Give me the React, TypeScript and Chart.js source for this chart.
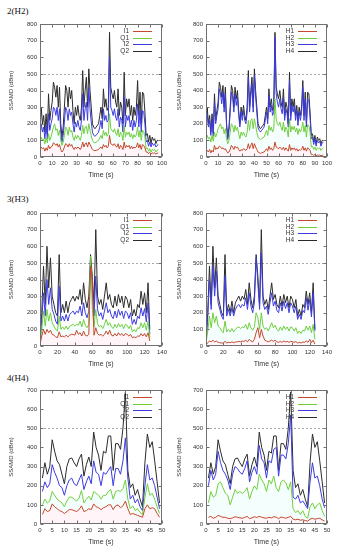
import React, { useEffect, useRef } from "react";
import { Chart, registerables } from "chart.js";
Chart.register(...registerables);

// ---------------- DATA ----------------
const THRESHOLD = 500;

// Row 1 : 2(H2)
const T1 = [0,1,2,3,4,5,6,7,8,9,10,11,12,13,14,15,16,17,18,19,20,21,22,23,24,25,26,27,28,29,30,31,32,33,34,35,36,37,38,39,40,41,42,43,44,45,46,47,48,49,50,51,52,53,54,55,56,57,58,59,60,61,62,63,64,65,66,67,68,69,70,71,72,73,74,75,76,77,78,79,80,81,82,83,84,85,86,87,88,89,90,91,92,93,94,95,96,97];
const R1_I1 = [40,60,50,55,35,55,40,70,50,60, 65,85,80,70,80,60,75,45,30,40, 60,80,75,60,80,65,75,55,45,60, 50,60,55,45,60,90,60,80,85,60, 90,75,60,45,40,38,40,42,45,55, 60,50,75,60,70,55,65,130,80,75, 70,80,65,60,80,50,70,60,45,90, 55,70,60,70,50,65,50,60,55,60, 85,55,75,45,75,70,55,30,30,20, 28,18,25,22,25,18,22,25];
const R1_Q1 = [90,120,100,110,80,115,85,140,100,120, 150,180,200,160,170,130,160,100,70,90, 130,180,170,130,180,150,160,120,100,130, 110,130,115,100,130,190,140,180,185,140, 200,160,130,100,90,85,90,95,100,115, 130,110,160,130,150,125,140,260,170,160, 150,170,145,130,170,120,150,135,100,190, 120,150,135,150,120,140,110,135,120,135, 180,120,160,100,160,155,120,50,55,35, 50,30,45,40,45,30,40,45];
const R1_I2 = [120,200,150,180,110,190,110,260,160,200, 230,300,290,250,300,220,290,150,90,130, 210,300,280,220,290,250,270,200,150,210, 180,220,180,160,220,380,220,290,330,220, 420,290,210,150,130,125,130,140,150,180, 220,170,290,220,250,210,220,600,300,280, 250,290,240,220,290,180,240,220,150,360, 180,250,220,250,180,220,160,220,180,220, 320,180,280,150,280,270,200,90,100,65, 90,60,85,70,80,60,70,75];
const R1_Q2 = [170,300,200,250,150,260,140,380,220,280, 330,450,420,360,430,300,420,200,120,180, 300,430,400,300,420,350,400,280,200,300, 250,310,250,220,300,520,300,400,480,300, 530,400,300,200,180,170,180,190,200,250, 300,230,410,300,350,280,300,750,420,380, 350,400,330,300,410,250,330,300,200,510, 250,350,300,350,250,310,220,300,250,300, 460,250,390,200,390,380,270,130,140,90, 130,80,120,100,110,80,100,100];
const R1_H1 = [25,40,30,45,25,40,30,70,45,55, 50,65,60,50,55,45,50,35,25,30, 45,70,60,45,65,55,60,45,35,45, 40,50,45,40,50,80,50,70,85,50, 80,60,45,30,25,22,25,28,30,40, 50,35,65,45,55,40,50,90,60,55, 50,60,50,45,60,40,55,45,35,75, 40,55,45,55,40,50,35,45,40,45, 65,40,55,35,55,50,40,15,15,10, 15,8,12,10,12,8,10,12];
const R1_H2 = [100,130,110,120,90,130,95,150,120,140, 170,185,200,170,180,140,170,110,80,100, 150,200,190,150,190,160,180,140,110,150, 130,150,130,120,150,220,160,220,230,170, 230,190,150,120,110,105,110,115,120,140, 160,130,190,160,180,150,170,350,230,200, 190,210,180,160,210,150,180,165,120,230, 150,185,165,185,150,175,135,170,150,170, 210,150,190,120,195,190,150,60,65,45, 60,40,55,50,55,40,50,55];
const R1_H3 = [150,260,180,220,130,230,125,330,200,250, 290,410,380,320,390,270,380,180,105,160, 270,390,360,270,380,310,360,250,180,270, 220,280,220,200,270,480,270,360,440,270, 490,360,270,175,160,150,160,170,180,220, 270,200,370,270,310,250,270,720,380,330, 300,350,290,260,360,220,290,260,180,460, 220,310,270,310,220,280,190,270,220,270, 420,220,350,180,350,340,240,110,120,75, 110,65,100,85,95,65,85,90];
const R1_H4 = R1_Q2;

// Row 2 : 3(H3)
const T2 = [0,2,4,6,8,10,12,14,16,18,20,22,24,26,28,30,32,34,36,38,40,42,44,46,48,50,52,54,56,58,60,62,64,66,68,70,72,74,76,78,80,82,84,86,88,90,92,94,96,98,100,102,104,106,108,110,112,114,116,118,120,122,124,126];
const R2_I1 = [10,60,100,70,100,80,95,70,65,55, 50,85,55,60,55,65,55,65,70,70, 65,95,70,80,60,90,65,60,70,480, 400,65,110,75,65,70,60,70,90,70, 95,65,60,75,60,80,65,75,60,75, 70,60,70,50,55,50,60,58,75,60, 75,55,80,30];
const R2_Q1 = [15,100,210,120,220,150,200,140,120,100, 90,180,100,115,100,120,100,120,125,130, 120,130,125,150,115,160,125,110,130,540, 220,115,220,135,115,125,105,130,160,125, 140,115,105,130,110,135,115,130,105,130, 125,105,125,85,100,85,110,105,140,110, 140,95,150,50];
const R2_I2 = [20,150,320,180,400,250,350,220,190,150, 130,360,150,180,150,190,150,190,200,210, 190,210,200,240,180,260,200,170,210,460, 350,180,420,220,180,200,160,210,260,200, 220,180,165,210,170,220,185,210,165,210, 200,165,200,130,160,130,180,165,230,180, 225,145,260,70];
const R2_Q2 = [20,200,480,250,600,350,530,300,250,200, 180,550,200,250,200,270,200,260,280,300, 270,300,280,340,250,380,280,230,300,550, 420,250,700,300,250,280,220,300,380,280, 310,250,230,300,240,310,260,300,230,300, 280,230,280,180,220,180,250,230,330,250, 320,200,380,100];
const R2_H1 = [5,20,30,25,35,25,30,22,20,18, 18,28,18,22,20,25,20,24,25,28, 25,30,28,35,25,40,30,25,40,80, 110,50,100,60,35,30,25,30,35,28, 35,25,22,28,22,30,25,28,22,28, 26,22,26,18,22,18,24,22,30,22, 40,20,35,12];
const R2_H2 = [15,90,180,110,200,140,180,120,110,90, 80,150,85,100,85,105,85,100,110,115, 105,115,110,130,100,140,110,95,115,200, 170,100,200,120,100,110,90,115,140,110, 125,100,90,115,95,120,100,115,90,115, 110,90,110,75,90,75,95,90,120,95, 120,80,130,40];
const R2_H3 = [20,170,400,220,480,300,450,260,220,180, 160,420,180,220,180,230,180,220,240,250, 230,250,240,290,220,320,240,200,260,530, 380,220,560,260,220,240,190,260,320,240, 270,215,200,260,210,270,225,260,200,260, 240,200,240,160,190,160,215,200,290,215, 280,175,320,90];
const R2_H4 = R2_Q2;

// Row 3 : 4(H4)
const T3 = [1,2,3,4,5,6,7,8,9,10,11,12,13,14,15,16,17,18,19,20,21,22,23,24,25,26,27,28,29,30,31,32,33,34,35,36,37,38,39,40,41,42,43,44,45,46,47,48,49];
const R3_I1 = [50,80,65,70,105,90,80,70,65,55, 65,75,75,70,65,75,95,65,70,80, 75,105,90,85,75,85,90,100,100,75, 95,100,85,95,120,80,50,55,50,45, 40,35,80,100,80,85,80,55,35];
const R3_Q1 = [100,130,110,120,170,150,130,120,110,90, 120,140,140,130,120,135,175,110,130,145, 125,170,160,150,130,150,150,170,180,130, 170,175,170,185,230,130,80,95,70,80, 60,50,140,210,150,160,130,90,55];
const R3_I2 = [170,220,190,210,310,270,240,200,190,150, 200,230,240,210,200,230,260,180,220,250, 210,330,270,260,200,270,260,280,300,200, 290,290,260,330,450,240,130,150,110,130, 90,70,200,310,230,240,200,140,80];
const R3_Q2 = [240,320,260,300,440,380,330,310,260,210, 300,340,345,320,300,340,365,250,310,350, 300,480,400,360,280,380,370,460,460,280, 420,420,390,500,690,280,190,210,150,180, 130,90,320,470,400,430,330,220,110];
const R3_H1 = [35,40,30,35,45,40,35,35,30,28, 32,38,35,32,30,34,40,28,32,38, 34,40,36,32,30,35,32,38,36,28, 36,34,30,35,40,25,22,25,20,22, 18,15,25,30,25,28,30,22,15];
const R3_H2 = [110,170,140,150,210,220,190,160,150,100, 140,180,160,170,160,170,190,130,170,200, 180,260,230,210,170,230,210,250,190,170, 220,230,215,180,220,80,60,70,50,70, 40,30,90,110,80,100,110,70,40];
const R3_H3 = [200,280,230,260,380,320,280,260,230,180, 260,300,290,270,260,290,330,220,270,300, 260,410,340,320,240,330,320,390,400,250, 360,360,340,420,570,140,130,150,110,120, 100,80,220,320,240,250,200,130,85];
const R3_H4 = R3_Q2;

const IQ_LABELS = ["I1", "Q1", "I2", "Q2"];
const H_LABELS = ["H1", "H2", "H3", "H4"];
const ROW_TITLES = ["2(H2)", "3(H3)", "4(H4)"];
const X_TITLE = "Time (s)";
const Y_TITLE = "SSAMD (dBm)";

// ---------------- STYLE ----------------
const COLORS = ["#c4482c", "#6fce3e", "#3b3be0", "#2b2b2b"];
const FILLS = ["rgba(255,170,195,0.12)", "rgba(150,250,240,0.10)", "rgba(0,0,0,0)", "rgba(0,0,0,0)"];
const SANS = '"Liberation Sans", Arial, sans-serif';

type PanelCfg = {
  times: number[];
  series: number[][];
  labels: string[];
  xMax: number;
  xStep: number;
  yMax: number;
  left: number;
  top: number;
  width: number;
  plotH: number;
  padRight: number;
  yTitlePad: number;
};

const gnuplotPlugin = {
  id: "gnuplotFrame",
  beforeDatasetsDraw(chart: any) {
    const { ctx, chartArea: a, scales } = chart;
    const yv = Math.round(scales.y.getPixelForValue(THRESHOLD)) + 0.5;
    ctx.save();
    ctx.strokeStyle = "#a8a8a8";
    ctx.lineWidth = 1;
    ctx.setLineDash([2, 2]);
    ctx.beginPath();
    ctx.moveTo(a.left, yv);
    ctx.lineTo(a.right, yv);
    ctx.stroke();
    ctx.restore();
  },
  afterDraw(chart: any) {
    const { ctx, chartArea: a, scales } = chart;
    const x = scales.x, y = scales.y;
    ctx.save();
    ctx.strokeStyle = "#707070";
    ctx.lineWidth = 1;
    const L = Math.round(a.left) + 0.5, R = Math.round(a.right) - 0.5;
    const T = Math.round(a.top) + 0.5, B = Math.round(a.bottom) - 0.5;
    ctx.strokeRect(L, T, R - L, B - T);
    ctx.beginPath();
    x.ticks.forEach((t: any) => {
      const p = Math.round(x.getPixelForValue(t.value)) + 0.5;
      ctx.moveTo(p, B); ctx.lineTo(p, B - 3);
      ctx.moveTo(p, T); ctx.lineTo(p, T + 3);
    });
    y.ticks.forEach((t: any) => {
      const p = Math.round(y.getPixelForValue(t.value)) + 0.5;
      ctx.moveTo(L, p); ctx.lineTo(L + 3, p);
      ctx.moveTo(R, p); ctx.lineTo(R - 3, p);
    });
    ctx.stroke();
    // key (label right-aligned, sample to its right)
    ctx.font = `6.5px ${SANS}`;
    ctx.textAlign = "right";
    ctx.textBaseline = "middle";
    chart.data.datasets.forEach((d: any, i: number) => {
      const yy = Math.round(a.top + 7 + i * 6.7) + 0.5;
      ctx.fillStyle = "#333";
      ctx.fillText(d.label, a.right - 33, yy);
      ctx.strokeStyle = d.borderColor;
      ctx.beginPath();
      ctx.moveTo(a.right - 29, yy);
      ctx.lineTo(a.right - 10, yy);
      ctx.stroke();
    });
    ctx.restore();
  },
};

function Panel({ cfg }: { cfg: PanelCfg }) {
  const ref = useRef<HTMLCanvasElement>(null);
  const X_H = 22;
  const TOP_PAD = 8;
  const height = TOP_PAD + cfg.plotH + X_H;
  useEffect(() => {
    const datasets = cfg.series.map((s, i) => ({
      label: cfg.labels[i],
      data: s.map((v, j) => ({ x: cfg.times[j], y: v })),
      borderColor: COLORS[i],
      backgroundColor: FILLS[i],
      fill: i === 0 ? "origin" : i === 1 ? "-1" : false,
      borderWidth: 1,
      pointRadius: 0,
      tension: 0,
    }));
    const chart = new Chart(ref.current!, {
      type: "line",
      data: { datasets },
      options: {
        animation: false,
        responsive: false,
        maintainAspectRatio: false,
        layout: { padding: { top: TOP_PAD, right: cfg.padRight, left: 0, bottom: 0 } },
        plugins: { legend: { display: false }, tooltip: { enabled: false } },
        scales: {
          x: {
            type: "linear",
            min: 0,
            max: cfg.xMax,
            ticks: { stepSize: cfg.xStep, autoSkip: false, maxRotation: 0, padding: 3, color: "#333", font: { size: 6, family: SANS } },
            grid: { display: false, drawTicks: false },
            border: { display: false },
            title: { display: true, text: X_TITLE, color: "#333", font: { size: 7, family: SANS }, padding: { top: 0, bottom: 0 } },
            afterFit(s: any) { s.height = X_H; },
          },
          y: {
            min: 0,
            max: cfg.yMax,
            ticks: { stepSize: 100, padding: 3, color: "#333", font: { size: 6, family: SANS } },
            grid: { display: false, drawTicks: false },
            border: { display: false },
            title: { display: true, text: Y_TITLE, color: "#333", font: { size: 6, family: SANS }, padding: { top: cfg.yTitlePad, bottom: 0 } },
            afterFit(s: any) { s.width = 40; },
          },
        },
      } as any,
      plugins: [gnuplotPlugin as any],
    });
    return () => chart.destroy();
  }, []);
  return (
    <canvas
      ref={ref}
      width={cfg.width}
      height={height}
      style={{ position: "absolute", left: cfg.left, top: cfg.top - TOP_PAD, width: cfg.width, height }}
    />
  );
}

const ROWS = [
  { title: ROW_TITLES[0], titleY: 6, plotTop: 24, plotH: 133, times: T1, xMax: 100, xStep: 10, yMax: 800,
    left: [R1_I1, R1_Q1, R1_I2, R1_Q2], right: [R1_H1, R1_H2, R1_H3, R1_H4] },
  { title: ROW_TITLES[1], titleY: 194, plotTop: 213, plotH: 133, times: T2, xMax: 140, xStep: 20, yMax: 800,
    left: [R2_I1, R2_Q1, R2_I2, R2_Q2], right: [R2_H1, R2_H2, R2_H3, R2_H4] },
  { title: ROW_TITLES[2], titleY: 373, plotTop: 390, plotH: 134, times: T3, xMax: 50, xStep: 5, yMax: 700,
    left: [R3_I1, R3_Q1, R3_I2, R3_Q2], right: [R3_H1, R3_H2, R3_H3, R3_H4] },
];

export default function App() {
  return (
    <div style={{ position: "absolute", left: 0, top: 0, width: 337, height: 550, background: "#fff", overflow: "hidden" }}>
      {ROWS.map((r, k) => (
        <React.Fragment key={k}>
          <div style={{ position: "absolute", left: 7, top: r.titleY, fontFamily: '"Liberation Serif", "Times New Roman", serif', fontSize: 9, lineHeight: "10px", color: "#111" }}>
            {r.title}
          </div>
          <Panel cfg={{ times: r.times, series: r.left, labels: IQ_LABELS, xMax: r.xMax, xStep: r.xStep, yMax: r.yMax,
            left: 0, top: r.plotTop, width: 170, plotH: r.plotH, padRight: 8, yTitlePad: 8 }} />
          <Panel cfg={{ times: r.times, series: r.right, labels: H_LABELS, xMax: r.xMax, xStep: r.xStep, yMax: r.yMax,
            left: 166, top: r.plotTop, width: 171, plotH: r.plotH, padRight: 10, yTitlePad: 10 }} />
        </React.Fragment>
      ))}
    </div>
  );
}
